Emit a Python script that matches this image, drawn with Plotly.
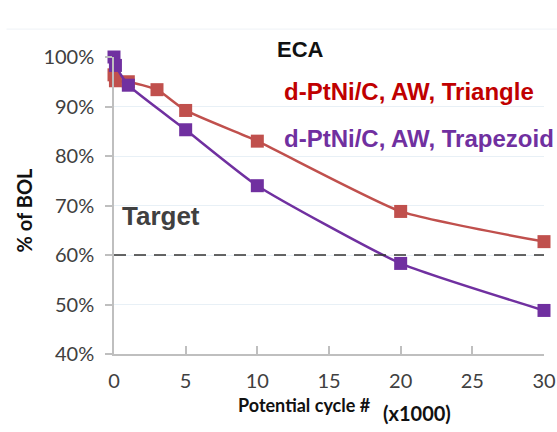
import plotly.graph_objects as go

# Data (x in thousands of cycles, y in % of BOL)
tri_x = [0, 0.1, 1, 3, 5, 10, 20, 30]
tri_y = [96.4, 95.2, 95.0, 93.4, 89.2, 83.0, 68.8, 62.7]
trap_x = [0, 0.1, 1, 5, 10, 20, 30]
trap_y = [100.0, 98.3, 94.3, 85.3, 74.0, 58.3, 48.8]
target = 60
x_ticks = [0, 5, 10, 15, 20, 25, 30]
y_ticks = [40, 50, 60, 70, 80, 90, 100]

RED = "#C0504D"
PURPLE = "#7030A0"

fig = go.Figure()

fig.add_trace(go.Scatter(
    x=tri_x, y=tri_y, mode="lines+markers",
    line=dict(color=RED, width=2.5, shape="spline", smoothing=0.5),
    marker=dict(symbol="square", size=13, color=RED),
    cliponaxis=False, showlegend=False))

fig.add_trace(go.Scatter(
    x=trap_x, y=trap_y, mode="lines+markers",
    line=dict(color=PURPLE, width=2.5, shape="spline", smoothing=0.5),
    marker=dict(symbol="square", size=13, color=PURPLE),
    cliponaxis=False, showlegend=False))

fig.add_shape(type="line", x0=0, x1=30, y0=target, y1=target,
              xref="x", yref="y",
              line=dict(color="#333333", width=1.5, dash="12px,8px"))

# faint frame line at top
fig.add_shape(type="line", x0=-0.25, x1=1.03, y0=1.094, y1=1.094,
              xref="paper", yref="paper",
              line=dict(color="#EEF2F6", width=1))

tick_font = dict(family="Lato, Carlito, sans-serif", size=20, color="#404040")

fig.update_xaxes(
    range=[0, 30], tickvals=x_ticks, ticktext=[str(v) for v in x_ticks],
    showgrid=False, zeroline=False, automargin=False,
    showline=True, linecolor="#BFBFBF", linewidth=1.5,
    ticks="inside", ticklen=8, tickcolor="#BFBFBF", tickwidth=1.5,
    ticklabelstandoff=8, tickfont=tick_font)

fig.update_yaxes(
    range=[40, 100], tickvals=y_ticks, ticktext=[f"{v}%" for v in y_ticks],
    showgrid=True, gridcolor="#E8F0F6", gridwidth=1, zeroline=False, automargin=False,
    showline=True, linecolor="#BFBFBF", linewidth=1.5,
    ticks="outside", ticklen=7, tickcolor="#BFBFBF", tickwidth=1.5,
    ticklabelstandoff=7, tickfont=tick_font)

bold = "Liberation Sans, Arial, sans-serif"
annos = [
    dict(text="<b>ECA</b>", x=0.374, y=1.025, color="#111111", size=22),
    dict(text="<b>d-PtNi/C, AW, Triangle</b>", x=0.391, y=0.885, color="#C00000", size=24),
    dict(text="<b>d-PtNi/C, AW, Trapezoid</b>", x=0.391, y=0.724, color=PURPLE, size=24),
    dict(text="<b>Target</b>", x=0.014, y=0.464, color="#404040", size=26),
]
for a in annos:
    fig.add_annotation(text=a["text"], x=a["x"], y=a["y"], xref="paper", yref="paper",
                       xanchor="left", yanchor="middle", showarrow=False,
                       font=dict(family=bold, size=a["size"], color=a["color"]))

fig.add_annotation(text="<b>% of BOL</b>", textangle=-90, x=-0.209, y=0.484,
                   xref="paper", yref="paper", xanchor="center", yanchor="middle",
                   showarrow=False,
                   font=dict(family="Lato, Carlito, sans-serif", size=20, color="#111111"))

fig.add_annotation(text="<b>Potential cycle #</b>", x=0.284, y=-0.172,
                   xref="paper", yref="paper", xanchor="left", yanchor="middle",
                   showarrow=False,
                   font=dict(family="Lato, Carlito, sans-serif", size=18, color="#111111"))
fig.add_annotation(text="<b>(x1000)</b>", x=0.62, y=-0.197,
                   xref="paper", yref="paper", xanchor="left", yanchor="middle",
                   showarrow=False,
                   font=dict(family="Lato, Carlito, sans-serif", size=20, color="#111111"))

fig.update_layout(
    width=557, height=432,
    margin=dict(l=114, r=13, t=57, b=78),
    paper_bgcolor="white", plot_bgcolor="white",
)

# remove the default page margin so the figure fills the window exactly
fig.write_html("out.html", config={"displayModeBar": False},
               post_script="document.body.style.margin='0';document.body.style.overflow='hidden';")
